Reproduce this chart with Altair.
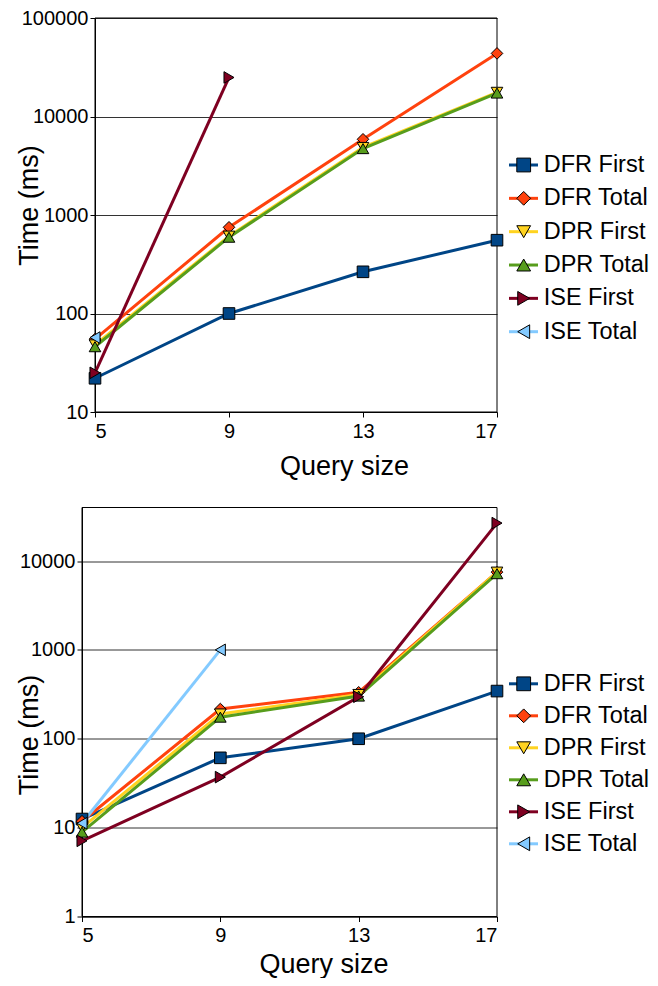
import altair as alt
import pandas as pd

series = ["DFR First", "DFR Total", "DPR First", "DPR Total", "ISE First", "ISE Total"]
colors = ["#004586", "#ff420e", "#ffd320", "#579d1c", "#7e0021", "#83caff"]
shapes = ["square", "diamond", "triangle-down", "triangle-up", "triangle-right", "triangle-left"]
query_sizes = [5, 9, 13, 17]

# Top chart (ms)
top_dfr_first = [22, 100, 265, 555]
top_dfr_total = [55, 750, 5870, 43700]
top_dpr_first = [48, 610, 4850, 17600]
top_dpr_total = [46, 595, 4720, 17300]
top_ise_first = [25, 24900, None, None]
top_ise_total = [57, None, None, None]

# Bottom chart (ms)
bot_dfr_first = [12.5, 61, 100, 344]
bot_dfr_total = [11.8, 216, 333, 7500]
bot_dpr_first = [10, 190, 315, 7500]
bot_dpr_total = [8.9, 175, 302, 7200]
bot_ise_first = [7.1, 37, 297, 26700]
bot_ise_total = [11.2, 1000, None, None]

top_ticks = [10, 100, 1000, 10000, 100000]
bot_ticks = [1, 10, 100, 1000, 10000]

FONT = "Liberation Sans"
W = 415  # common panel width


def to_long(lists):
    rows = []
    for i, (name, vals) in enumerate(zip(series, lists)):
        for q, v in zip(query_sizes, vals):
            if v is not None:
                rows.append({"series": name, "size": q, "time": v, "order": i})
    return pd.DataFrame(rows)


top_df = to_long([top_dfr_first, top_dfr_total, top_dpr_first, top_dpr_total, top_ise_first, top_ise_total])
bot_df = to_long([bot_dfr_first, bot_dfr_total, bot_dpr_first, bot_dpr_total, bot_ise_first, bot_ise_total])
legend_df = pd.DataFrame({"series": series})
frame_df = pd.DataFrame({"frame": [0]})

color_scale = alt.Scale(domain=series, range=colors)
shape_scale = alt.Scale(domain=series, range=shapes)


def panel(df, height, ydomain, yticks, left, ytx, yty, xtx, xty, leg_range):
    x = alt.X("size:Q",
              scale=alt.Scale(domain=[5, 17], range=[left, W], nice=False, zero=False),
              axis=alt.Axis(values=query_sizes, title="Query size", grid=False,
                            titleX=xtx, titleY=xty, titleBaseline="middle",
                            labelPadding=4))
    y = alt.Y("time:Q",
              scale=alt.Scale(type="log", domain=ydomain, nice=False),
              axis=alt.Axis(values=yticks, format="d", title="Time (ms)", grid=True,
                            offset=-left,
                            titleX=ytx, titleY=yty, titleBaseline="middle",
                            titleAngle=-90, labelPadding=2))
    lines = alt.Chart(df).mark_line(strokeWidth=3).encode(
        x=x, y=y,
        color=alt.Color("series:N", scale=color_scale, legend=None),
        order=alt.Order("size:Q"),
    )
    points = alt.Chart(df).mark_point(filled=True, size=135, stroke="black",
                                      strokeWidth=1, opacity=1).encode(
        x=x, y=y,
        fill=alt.Fill("series:N", scale=color_scale, legend=None),
        shape=alt.Shape("series:N", scale=shape_scale, legend=None),
    )
    data_layer = alt.layer(lines, points)

    # plot-area frame
    frame = alt.Chart(frame_df).mark_rect(fillOpacity=0, stroke="black", strokeWidth=1).encode(
        x=alt.value(left), x2=alt.value(W), y=alt.value(0), y2=alt.value(height),
    )

    # legend drawn as a small layer to the right of the plot
    leg_x = W + 12
    yy = alt.Y("series:N",
               scale=alt.Scale(type="point", domain=series, range=leg_range, padding=0),
               axis=None)
    leg_rule = alt.Chart(legend_df).mark_rule(strokeWidth=3).encode(
        x=alt.value(leg_x), x2=alt.value(leg_x + 29), y=yy,
        color=alt.Color("series:N", scale=color_scale, legend=None),
    )
    leg_pts = alt.Chart(legend_df).mark_point(filled=True, size=190, stroke="black",
                                              strokeWidth=1, opacity=1).encode(
        x=alt.value(leg_x + 14.7), y=yy,
        fill=alt.Fill("series:N", scale=color_scale, legend=None),
        shape=alt.Shape("series:N", scale=shape_scale, legend=None),
    )
    leg_txt = alt.Chart(legend_df).mark_text(align="left", baseline="middle", fontSize=23.5,
                                             font=FONT, color="black").encode(
        x=alt.value(leg_x + 34.7), y=yy, text="series:N",
    )
    legend = alt.layer(leg_rule, leg_pts, leg_txt)

    return alt.layer(frame, data_layer, legend).resolve_scale(y="independent").properties(
        width=W, height=height,
    )


top = panel(top_df, 394, [10, 100000], top_ticks, 13, -65.5, 187, 262, 54,
            [147, 313.7])
bot = panel(bot_df, 409, [1, 40000], bot_ticks, 0, -52.5, 227, 241.5, 48,
            [176.3, 336.3])

chart = alt.vconcat(
    top, bot, spacing=27.5,
).properties(
    padding={"left": 7, "top": 0, "right": 0, "bottom": 0}
).configure_view(
    strokeWidth=0
).configure_axis(
    labelFont=FONT, labelFontSize=20, labelColor="black",
    titleFont=FONT, titleFontSize=27, titleFontWeight="normal", titleColor="black",
    domainColor="black", tickColor="black", tickSize=5,
    gridColor="#333333", gridWidth=1, gridOpacity=1,
)

chart.save("out.html", embed_options={"renderer": "svg", "actions": False})
